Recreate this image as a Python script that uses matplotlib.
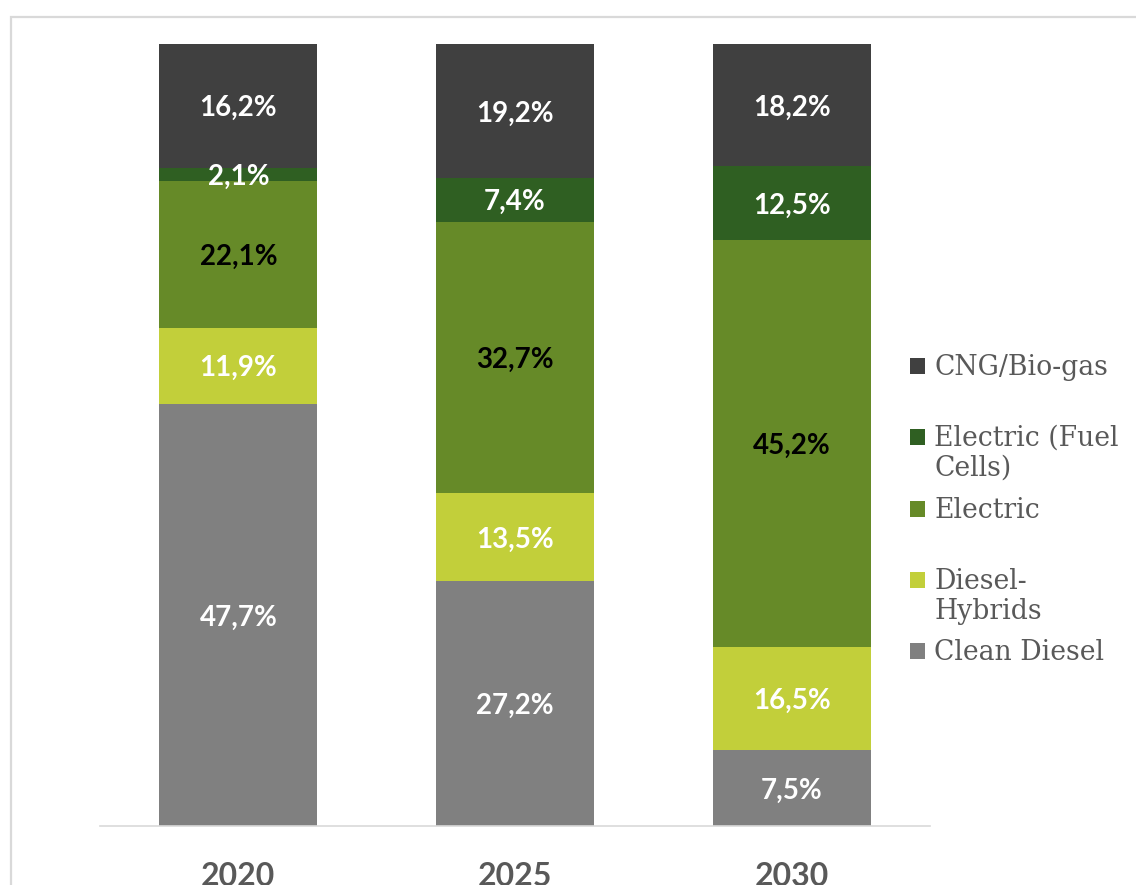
#!/usr/bin/env python3
"""Stacked bar chart: bus fleet powertrain shares 2020-2030."""

import matplotlib
matplotlib.use("Agg")
import matplotlib.pyplot as plt
from matplotlib.patches import Rectangle

years = ["2020", "2025", "2030"]
series = ["Clean Diesel", "Diesel-\nHybrids", "Electric", "Electric (Fuel\nCells)", "CNG/Bio-gas"]
colors = ["#808080", "#c2cf3a", "#668a28", "#2f5f22", "#404040"]

# segment heights as drawn (share of bar height, %)
clean_diesel = [54.0, 31.3, 9.7]
diesel_hybrids = [9.7, 11.3, 13.2]
electric = [18.8, 34.7, 52.0]
fuel_cells = [1.7, 5.6, 9.5]
cng_biogas = [15.8, 17.1, 15.6]

# printed labels
lbl_clean_diesel = ["47,7%", "27,2%", "7,5%"]
lbl_diesel_hybrids = ["11,9%", "13,5%", "16,5%"]
lbl_electric = ["22,1%", "32,7%", "45,2%"]
lbl_fuel_cells = ["2,1%", "7,4%", "12,5%"]
lbl_cng_biogas = ["16,2%", "19,2%", "18,2%"]

values = [clean_diesel, diesel_hybrids, electric, fuel_cells, cng_biogas]
labels = [lbl_clean_diesel, lbl_diesel_hybrids, lbl_electric, lbl_fuel_cells, lbl_cng_biogas]
label_colors = ["white", "white", "black", "white", "white"]

W, H = 1136, 885
fig = plt.figure(figsize=(W / 100, H / 100), dpi=100)
ax = fig.add_axes([100 / W, 1 - 826 / H, 830 / W, 782 / H])

x = range(len(years))
bottom = [0.0] * len(years)
for vals, col, lbls, lc in zip(values, colors, labels, label_colors):
    bars = ax.bar(x, vals, width=0.57, bottom=bottom, color=col, linewidth=0)
    texts = ax.bar_label(bars, labels=lbls, label_type="center", color=lc,
                         fontsize=20, fontweight="bold", family="Lato")
    for t in texts:
        t.set_va("center_baseline")
    bottom = [b + v for b, v in zip(bottom, vals)]

ax.set_xlim(-0.5, 2.5)
ax.set_ylim(0, 100)
ax.set_yticks([])
ax.set_xticks(list(x))
ax.set_xticklabels(years, fontsize=23, fontweight="bold", family="Lato", color="#595959")
ax.tick_params(axis="x", length=0, pad=26)
for side in ["top", "right", "left"]:
    ax.spines[side].set_visible(False)
ax.spines["bottom"].set_color("#d9d9d9")
ax.spines["bottom"].set_linewidth(1.2)

# chart frame
fig.patches.append(Rectangle((11 / W, -0.1), 1.2, 1 - 17 / H + 0.1, transform=fig.transFigure,
                             fill=False, edgecolor="#d9d9d9", linewidth=1.6))

# legend, top to bottom
leg_y = [366, 437, 509, 580, 651]
for name, col, yy in zip(series[::-1], colors[::-1], leg_y):
    fig.patches.append(Rectangle((910 / W, 1 - (yy + 8) / H), 15 / W, 16 / H,
                                 transform=fig.transFigure, color=col, linewidth=0))
    fig.text(934 / W, 1 - (yy - 12) / H, name, va="top", ha="left", fontsize=19.2,
             family="DejaVu Serif", color="#595959", linespacing=1.12)

fig.savefig("out.png", dpi=100)
